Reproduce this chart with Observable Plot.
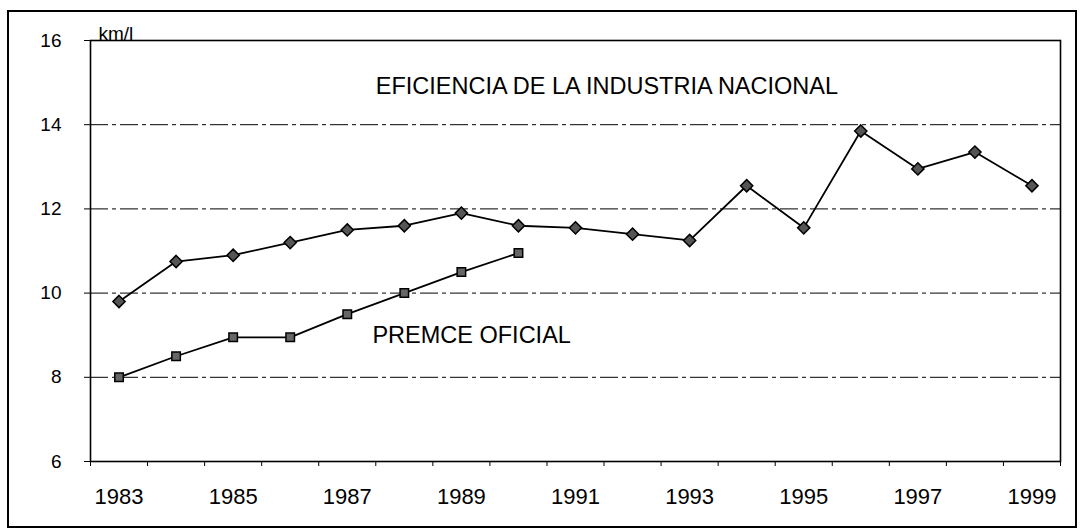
<!DOCTYPE html>
<html><head><meta charset="utf-8">
<script src="https://cdn.jsdelivr.net/npm/d3@7"></script>
<script src="https://cdn.jsdelivr.net/npm/@observablehq/plot@0.6"></script>
<style>
body{margin:0;background:#fff;font-family:"Liberation Sans",Arial,sans-serif;}
#wrap{position:relative;width:1084px;height:530px;}
#border{position:absolute;left:7px;top:10px;width:1066px;height:514px;border:2px solid #000;pointer-events:none;}
</style></head>
<body><div id="wrap"><div id="border"></div></div>
<script>
const years = d3.range(1983, 2000);
const eficiencia = [9.8,10.75,10.9,11.2,11.5,11.6,11.9,11.6,11.55,11.4,11.25,12.55,11.55,13.85,12.95,13.35,12.55];
const premceYears = [1983,1984,1985,1986,1987,1988,1989,1990];
const premce = [8.0,8.5,8.95,8.95,9.5,10.0,10.5,10.95];
const yTicks = [6,8,10,12,14,16];
const xLabels = [1983,1985,1987,1989,1991,1993,1995,1997,1999];
const labels = [
  {x:1991.55, y:14.91, text:"EFICIENCIA DE LA INDUSTRIA NACIONAL"},
  {x:1989.18, y:8.99, text:"PREMCE OFICIAL"}
];

const efData = years.map((y,i)=>({year:y, v:eficiencia[i]}));
const prData = premceYears.map((y,i)=>({year:y, v:premce[i]}));
const boundaries = d3.range(1982.5, 2000, 1);

const chart = Plot.plot({
  width:1084, height:530,
  marginLeft:90, marginRight:24, marginTop:40, marginBottom:69,
  style:{fontFamily:"Liberation Sans, Arial, sans-serif", color:"#000", background:"transparent"},
  x:{domain:[1982.5,1999.5], axis:null},
  y:{domain:[6,16], axis:null},
  marks:[
    Plot.ruleY([8,10,12,14], {stroke:"#000", strokeWidth:1, strokeDasharray:"18,4,4,4"}),
    Plot.frame({stroke:"#000", strokeWidth:1.6}),
    Plot.axisY(yTicks, {tickSize:6, tickPadding:23, fontSize:19, stroke:"#000"}),
    Plot.axisX(boundaries, {tickSize:5, tickFormat:()=>"", stroke:"#000"}),
    Plot.axisX(xLabels, {tickSize:0, tickPadding:27, tickFormat:d=>String(d), fontSize:22}),
    Plot.line(efData, {x:"year", y:"v", stroke:"#000", strokeWidth:1.8}),
    Plot.line(prData, {x:"year", y:"v", stroke:"#000", strokeWidth:1.8}),
    Plot.dot(efData, {x:"year", y:"v", symbol:"diamond2", r:5.5, fill:"#555", stroke:"#000", strokeWidth:1.5}),
    Plot.dot(prData, {x:"year", y:"v", symbol:"square", r:4.8, fill:"#666", stroke:"#000", strokeWidth:1.5}),
    Plot.text(labels, {x:"x", y:"y", text:"text", fontSize:23.5, fill:"#000"}),
    Plot.text(["km/l"], {frameAnchor:"top-left", dx:8, dy:-14, fontSize:19, textAnchor:"start", fill:"#000"})
  ]
});
document.getElementById("wrap").appendChild(chart);
chart.style.position="absolute"; chart.style.left="0"; chart.style.top="0";
</script>
</body></html>
